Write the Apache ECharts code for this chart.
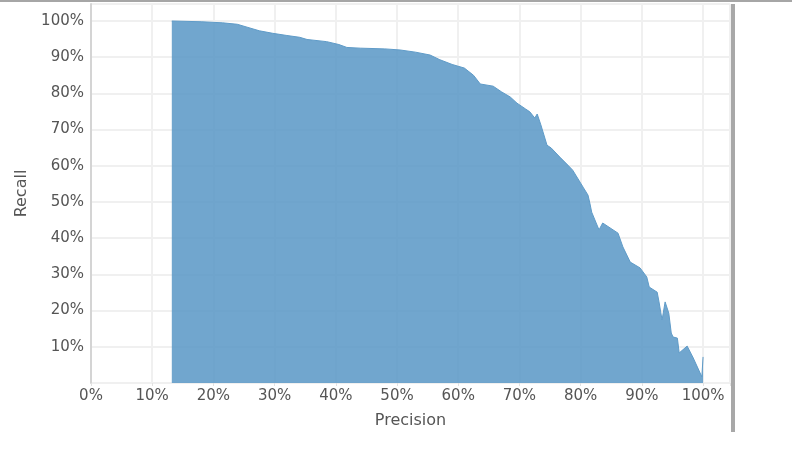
<!DOCTYPE html>
<html>
<head>
<meta charset="utf-8">
<script src="https://cdn.jsdelivr.net/npm/echarts@6/dist/echarts.min.js"></script>
<style>html,body{margin:0;padding:0;background:#fff;}#c{width:792px;height:470px;}</style>
</head>
<body>
<div id="c"></div>
<script>
// Precision (x) and Recall (y)
const precision = [0.132,0.180,0.215,0.239,0.255,0.275,0.297,0.320,0.341,0.353,0.385,0.405,0.418,0.440,0.480,0.505,0.530,0.554,0.570,0.590,0.610,0.625,0.636,0.657,0.671,0.685,0.696,0.710,0.717,0.725,0.729,0.735,0.745,0.752,0.766,0.779,0.787,0.804,0.812,0.815,0.818,0.830,0.836,0.861,0.869,0.881,0.897,0.908,0.912,0.925,0.928,0.933,0.938,0.941,0.944,0.948,0.951,0.958,0.961,0.974,0.984,0.998,1.000];
const recall    = [1.000,0.998,0.995,0.991,0.983,0.973,0.966,0.960,0.955,0.949,0.943,0.935,0.927,0.925,0.923,0.920,0.914,0.906,0.893,0.880,0.870,0.850,0.826,0.820,0.804,0.790,0.773,0.757,0.749,0.732,0.743,0.713,0.657,0.649,0.624,0.602,0.588,0.541,0.519,0.497,0.472,0.423,0.442,0.414,0.376,0.334,0.318,0.293,0.265,0.251,0.224,0.174,0.224,0.229,0.193,0.138,0.127,0.124,0.083,0.102,0.069,0.017,0.072];
const xTicks = [0,0.1,0.2,0.3,0.4,0.5,0.6,0.7,0.8,0.9,1.0];
const yTicks = [0.1,0.2,0.3,0.4,0.5,0.6,0.7,0.8,0.9,1.0];
const xName = 'Precision';
const yName = 'Recall';

function pctLabel(list){
  return function(v){
    for (const t of list) if (Math.abs(v - t) < 1e-6) return Math.round(t*100) + '%';
    return '';
  };
}
const pts = precision.map((p,i)=>[p, recall[i]]);
const chart = echarts.init(document.getElementById('c'), null, {renderer:'canvas'});
const txt = {color:'#555555', fontFamily:'DejaVu Sans', fontSize:15};
chart.setOption({
  animation:false,
  backgroundColor:'#ffffff',
  grid:{left:91, right:62, top:4, bottom:87},
  xAxis:{
    type:'value', min:0, max:1.044, interval:0.1,
    name:xName, nameLocation:'middle', nameGap:30,
    nameTextStyle:{color:'#555555', fontFamily:'DejaVu Sans', fontSize:16},
    axisLine:{show:false},
    axisTick:{show:true, length:3, lineStyle:{color:'#e2e2e2'}},
    axisLabel:Object.assign({margin:6, formatter:pctLabel(xTicks), showMaxLabel:true}, txt),
    splitLine:{show:true, lineStyle:{color:'#f0f0f0', width:2}}
  },
  yAxis:{
    type:'value', min:0, max:1.047, interval:0.1,
    name:yName, nameLocation:'middle', nameGap:61,
    nameTextStyle:{color:'#555555', fontFamily:'DejaVu Sans', fontSize:16},
    axisLine:{show:true, lineStyle:{color:'#d4d4d4', width:2}},
    axisTick:{show:false},
    axisLabel:Object.assign({margin:7, formatter:pctLabel(yTicks)}, txt),
    splitLine:{show:true, lineStyle:{color:'#f0f0f0', width:2}}
  },
  series:[{
    type:'line', data:pts, showSymbol:false, symbol:'none',
    lineStyle:{color:'#5f9bc8', width:1},
    areaStyle:{color:'#5897c5', opacity:0.85, origin:'start'},
    z:3
  }],
  graphic:[
    {type:'rect', shape:{x:0, y:0, width:792, height:2}, style:{fill:'#a6a6a6'}, silent:true},
    {type:'rect', shape:{x:731, y:4, width:4, height:428}, style:{fill:'#a8a8a8'}, silent:true}
  ]
});
</script>
</body>
</html>
